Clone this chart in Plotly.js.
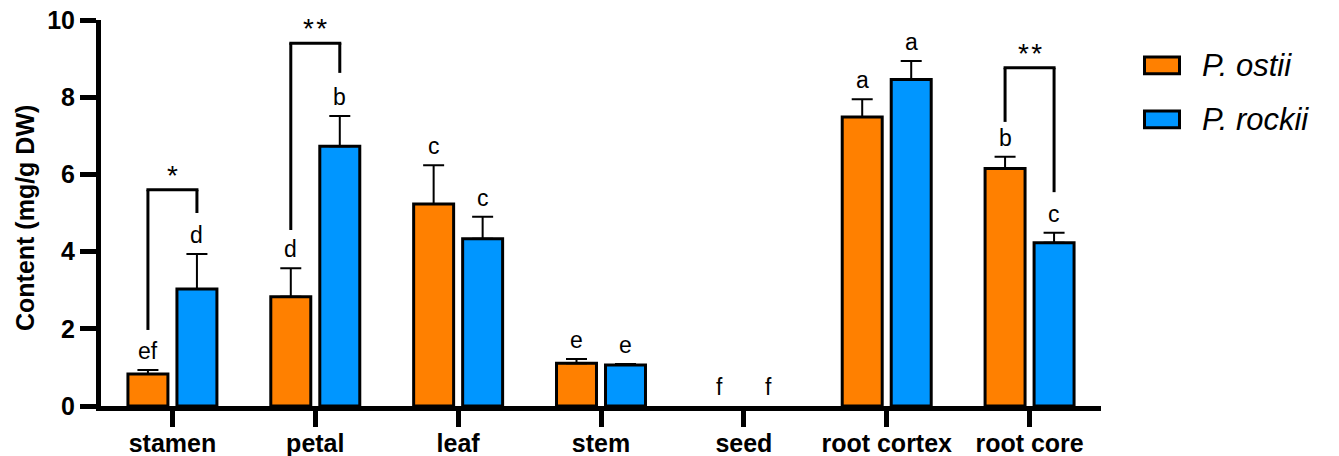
<!DOCTYPE html>
<html>
<head>
<meta charset="utf-8">
<script src="https://cdn.plot.ly/plotly-3.0.1.min.js"></script>
<style>html,body{margin:0;padding:0;background:#fff;}#chart{width:1339px;height:456px;}</style>
</head>
<body>
<div id="chart"></div>
<script>
// ---- data ----
const categories = ['stamen', 'petal', 'leaf', 'stem', 'seed', 'root cortex', 'root core'];
const ostiiValues = [0.83, 2.83, 5.23, 1.11, 0, 7.49, 6.15];
const ostiiErrors = [0.10, 0.74, 1.01, 0.11, 0, 0.46, 0.31];
const rockiiValues = [3.03, 6.73, 4.33, 1.06, 0, 8.46, 4.23];
const rockiiErrors = [0.91, 0.78, 0.57, 0.03, 0, 0.48, 0.26];
const ostiiLetters = ['ef', 'd', 'c', 'e', 'f', 'a', 'b'];
const rockiiLetters = ['d', 'b', 'c', 'e', 'f', 'a', 'c'];
const seriesNames = ['P. ostii', 'P. rockii'];
const seriesColors = ['#FF8000', '#0096FF'];
const yTicks = [0, 2, 4, 6, 8, 10];
// significance brackets
const bracketCats = [0, 1, 6];
const bracketLeftBottom = [1.97, 4.56, 7.36];
const bracketTop = [5.6, 9.4, 8.76];
const bracketRightBottom = [5.0, 8.63, 5.54];
const bracketLabels = ['*', '**', '**'];

// ---- layout helpers ----
const BARGAP = 0.314;
const OFF = (1 - BARGAP) / 4;
const FONT = 'Liberation Sans, Arial, sans-serif';
const idx = categories.map((c, i) => i);

function barTrace(name, vals, errs, color) {
  return {
    type: 'bar', name: name, x: idx, y: vals,
    marker: {color: color, opacity: vals.map(v => v > 0 ? 1 : 0),
             line: {color: '#000', width: vals.map(v => v > 0 ? 3 : 0)}},
    error_y: {type: 'data', symmetric: false, array: errs.map(e => e > 0 ? e : NaN),
              arrayminus: errs.map(e => e > 0 ? 0 : NaN),
              color: '#000', thickness: 2, width: 10.5},
    hoverinfo: 'skip'
  };
}

const traces = [
  barTrace(seriesNames[0], ostiiValues, ostiiErrors, seriesColors[0]),
  barTrace(seriesNames[1], rockiiValues, rockiiErrors, seriesColors[1])
];

const annotations = [];
const letterFont = {family: FONT, size: 23, color: '#000'};
idx.forEach(i => {
  annotations.push({x: i - OFF, y: ostiiValues[i] + ostiiErrors[i], xref: 'x', yref: 'y',
    text: ostiiLetters[i], showarrow: false, yanchor: 'bottom', yshift: 4, font: letterFont});
  annotations.push({x: i + OFF, y: rockiiValues[i] + rockiiErrors[i], xref: 'x', yref: 'y',
    text: rockiiLetters[i], showarrow: false, yanchor: 'bottom', yshift: 4, font: letterFont});
});

const shapes = [];
const bl = {color: '#000', width: 3};
bracketCats.forEach((c, k) => {
  shapes.push({type: 'line', xref: 'x', yref: 'y', x0: c - OFF, x1: c - OFF, y0: bracketLeftBottom[k], y1: bracketTop[k], line: bl});
  shapes.push({type: 'line', xref: 'x', yref: 'y', x0: c - OFF - 0.0105, x1: c + OFF + 0.0105, y0: bracketTop[k], y1: bracketTop[k], line: bl});
  shapes.push({type: 'line', xref: 'x', yref: 'y', x0: c + OFF, x1: c + OFF, y0: bracketTop[k], y1: bracketRightBottom[k], line: bl});
  annotations.push({x: c, y: bracketTop[k], xref: 'x', yref: 'y', text: bracketLabels[k].split('').join('&#8202;'), showarrow: false,
    yanchor: 'bottom', yshift: -3, font: {family: FONT, size: 28, color: '#000'}});
});

// y-axis title
annotations.push({x: -0.076, y: 0.487, xref: 'paper', yref: 'paper', text: 'Content (mg/g DW)', textangle: -90,
  showarrow: false, xanchor: 'center', yanchor: 'middle', font: {family: FONT, size: 25, weight: 'bold', color: '#000'}});

// custom legend
const legendY = [[0.904, 0.861], [0.764, 0.721]];
seriesNames.forEach((n, k) => {
  shapes.push({type: 'rect', xref: 'paper', yref: 'paper', x0: 1.0435, x1: 1.0785, y0: legendY[k][1], y1: legendY[k][0],
    fillcolor: seriesColors[k], line: {color: '#000', width: 3}});
  annotations.push({x: 1.099, y: (legendY[k][0] + legendY[k][1]) / 2, xref: 'paper', yref: 'paper', text: '<i>' + n + '</i>',
    showarrow: false, xanchor: 'left', yanchor: 'middle', font: {family: FONT, size: 31, color: '#000'}});
});

const layout = {
  width: 1339, height: 456,
  margin: {l: 101, r: 238, t: 20, b: 50, pad: 0},
  paper_bgcolor: '#fff', plot_bgcolor: '#fff',
  barmode: 'group', bargap: BARGAP, bargroupgap: 0.184,
  showlegend: false,
  xaxis: {
    range: [-0.5, 6.5], tickmode: 'array', tickvals: idx, ticktext: categories,
    showline: true, linecolor: '#000', linewidth: 5, ticks: 'outside', ticklen: 16, tickwidth: 5, tickcolor: '#000',
    ticklabelstandoff: -5,
    showgrid: false, zeroline: false, fixedrange: true,
    tickfont: {family: FONT, size: 25, weight: 'bold', color: '#000'}
  },
  yaxis: {
    range: [0, 10], tickmode: 'array', tickvals: yTicks, ticktext: yTicks.map(String),
    showline: true, linecolor: '#000', linewidth: 5, ticks: 'outside', ticklen: 16, tickwidth: 5, tickcolor: '#000',
    showgrid: false, zeroline: false, fixedrange: true,
    tickfont: {family: FONT, size: 25, weight: 'bold', color: '#000'}
  },
  annotations: annotations,
  shapes: shapes
};

Plotly.newPlot('chart', traces, layout, {displayModeBar: false, staticPlot: true});
</script>
</body>
</html>
